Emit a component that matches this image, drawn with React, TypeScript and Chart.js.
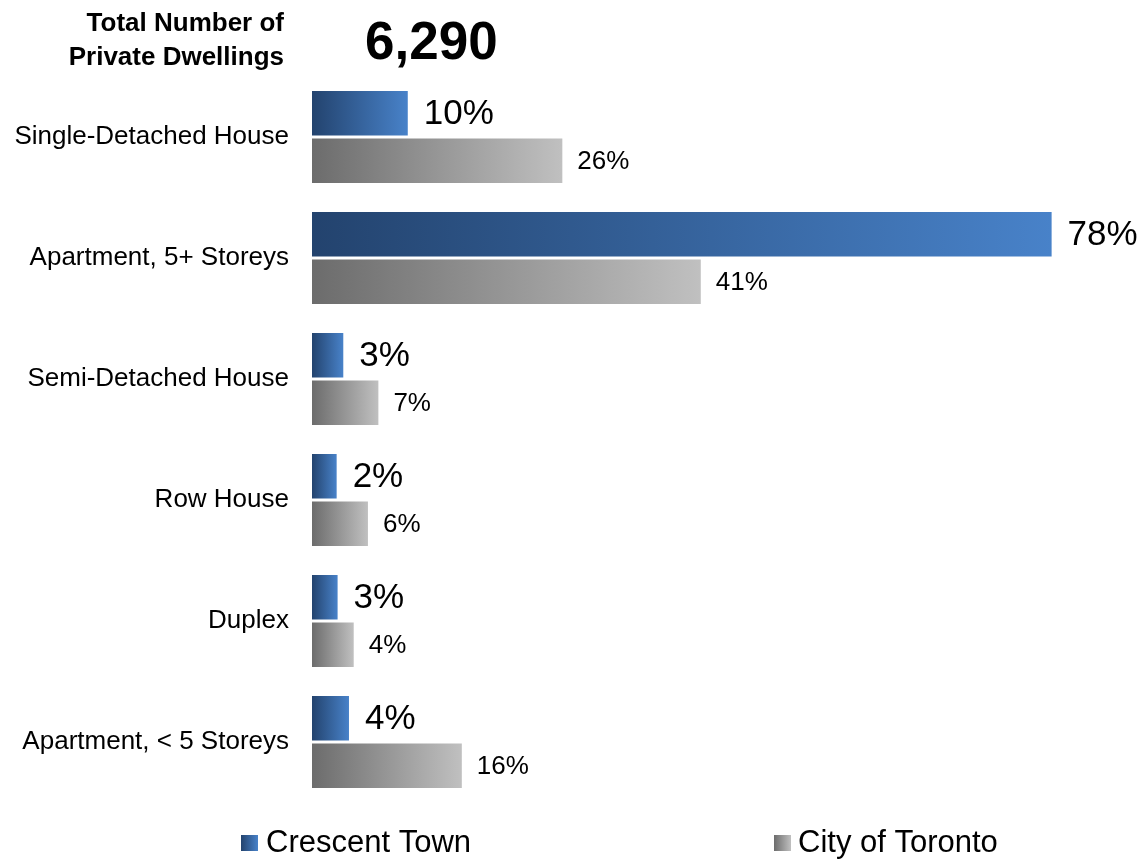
import React, { useEffect, useRef } from "react";
import { Chart, registerables } from "chart.js";

Chart.register(...registerables);

const categories = [
  "Single-Detached House",
  "Apartment, 5+ Storeys",
  "Semi-Detached House",
  "Row House",
  "Duplex",
  "Apartment, < 5 Storeys",
];
const crescentTown = [10.1, 78, 3.3, 2.6, 2.7, 3.9];
const cityOfToronto = [26.4, 41.0, 7.0, 5.9, 4.4, 15.8];
const crescentLabels = ["10%", "78%", "3%", "2%", "3%", "4%"];
const torontoLabels = ["26%", "41%", "7%", "6%", "4%", "16%"];
const seriesNames = ["Crescent Town", "City of Toronto"];
const totalTitle = ["Total Number of", "Private Dwellings"];
const totalValue = "6,290";

const FONT = "'Liberation Sans', Arial, sans-serif";
const BLUE_DARK = "#23436e";
const BLUE_LIGHT = "#4882c9";
const GRAY_DARK = "#6c6c6c";
const GRAY_LIGHT = "#c0c0c0";

function barGradient(dark: string, light: string) {
  return (ctx: any) => {
    const chart = ctx.chart;
    const xs = chart.scales && chart.scales.x;
    if (!chart.chartArea || !xs || ctx.type !== "data") return dark;
    const x0 = xs.getPixelForValue(0);
    const x1 = xs.getPixelForValue(ctx.raw);
    if (!isFinite(x0) || !isFinite(x1) || x1 - x0 < 1) return dark;
    const g = chart.ctx.createLinearGradient(x0, 0, x1, 0);
    g.addColorStop(0, dark);
    g.addColorStop(1, light);
    return g;
  };
}

const overlayPlugin = {
  id: "overlay",
  afterDatasetsDraw(chart: any) {
    const ctx = chart.ctx as CanvasRenderingContext2D;
    ctx.save();
    ctx.fillStyle = "#000";

    // value labels
    const sets = [
      { labels: crescentLabels, font: `35px ${FONT}`, off: 16 },
      { labels: torontoLabels, font: `26px ${FONT}`, off: 15 },
    ];
    ctx.textAlign = "left";
    ctx.textBaseline = "middle";
    sets.forEach((s, di) => {
      const meta = chart.getDatasetMeta(di);
      meta.data.forEach((bar: any, i: number) => {
        ctx.font = s.font;
        ctx.fillText(s.labels[i], bar.x + s.off, bar.y + 1);
      });
    });

    // title block
    ctx.textBaseline = "alphabetic";
    ctx.textAlign = "right";
    ctx.font = `bold 26px ${FONT}`;
    ctx.fillText(totalTitle[0], 284, 31);
    ctx.fillText(totalTitle[1], 284, 65);
    ctx.textAlign = "left";
    ctx.font = `bold 53px ${FONT}`;
    ctx.fillText(totalValue, 365, 59);

    // legend
    const items = [
      { x: 241, tx: 266, dark: BLUE_DARK, light: BLUE_LIGHT },
      { x: 774, tx: 798, dark: GRAY_DARK, light: GRAY_LIGHT },
    ];
    items.forEach((it, i) => {
      const g = ctx.createLinearGradient(it.x, 0, it.x + 17, 0);
      g.addColorStop(0, it.dark);
      g.addColorStop(1, it.light);
      ctx.fillStyle = g;
      ctx.fillRect(it.x, 835, 17, 16);
      ctx.fillStyle = "#000";
      ctx.font = `31px ${FONT}`;
      ctx.fillText(seriesNames[i], it.tx, 852);
    });
    ctx.restore();
  },
};

export default function App() {
  const ref = useRef<HTMLCanvasElement | null>(null);

  useEffect(() => {
    if (!ref.current) return;
    const chart = new Chart(ref.current, {
      type: "bar",
      data: {
        labels: categories,
        datasets: [
          {
            label: seriesNames[0],
            data: crescentTown,
            backgroundColor: barGradient(BLUE_DARK, BLUE_LIGHT),
            borderWidth: 0,
            categoryPercentage: 0.785,
            barPercentage: 0.935,
          },
          {
            label: seriesNames[1],
            data: cityOfToronto,
            backgroundColor: barGradient(GRAY_DARK, GRAY_LIGHT),
            borderWidth: 0,
            categoryPercentage: 0.785,
            barPercentage: 0.935,
          },
        ],
      },
      options: {
        indexAxis: "y",
        responsive: false,
        animation: false,
        layout: { padding: { left: 0, right: 27, top: 76.5, bottom: 56.5 } },
        plugins: {
          legend: { display: false },
          tooltip: { enabled: false },
          title: { display: false },
        },
        scales: {
          x: {
            type: "linear",
            min: 0,
            max: 85,
            display: false,
          },
          y: {
            type: "category",
            grid: { display: false, drawTicks: false },
            border: { display: false },
            ticks: {
              color: "#000",
              padding: 23,
              font: { family: FONT, size: 26 },
            },
            afterFit: (scale: any) => {
              scale.width = 312;
            },
          },
        },
      },
      plugins: [overlayPlugin],
    } as any);
    return () => chart.destroy();
  }, []);

  return (
    <div
      style={{
        position: "absolute",
        left: 0,
        top: 0,
        width: 1145,
        height: 859,
        background: "#fff",
      }}
    >
      <canvas ref={ref} width={1145} height={859} style={{ display: "block" }} />
    </div>
  );
}
